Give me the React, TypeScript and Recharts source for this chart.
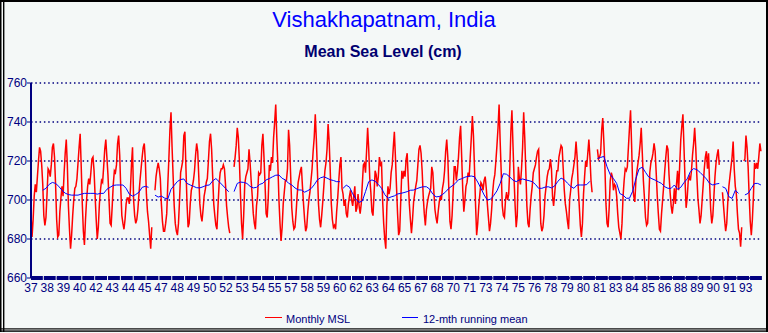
import { CartesianGrid, Line, LineChart, XAxis, YAxis } from "recharts";

// monthly mean sea level (cm), one row per 12 points, null = missing
const monthlyMsl: (number | null)[] = [
  693, 681, 690, 702, 708, 704, 712, 720, 727, 725, 718, 708,
  692, 687, 691, 703, 716, 715, 712, 718, 727, 729, 722, 708,
  690, 681, 682, 694, 701, 707, 702, 714, 724, 731, 718, 697,
  685, 675, 682, 692, 700, 706, 707, 711, 719, 727, 734, 717,
  698, 684, 677, 690, 700, 707, 711, 708, 714, 721, 722, 715,
  702, 690, 680, 686, 698, 705, 710, 709, 717, 726, 731, 722,
  713, 700, 688, 687, 697, 708, 715, 714, 718, 729, 733, 723,
  706, 692, 688, 685, 690, 698, 701, 701, 698, 705, 718, 727,
  700, 692, 688, 690, 695, 703, 710, 716, 722, 727, 729, 720,
  703, 694, 689, 682, 675, 686, null, null, 705, 712, 716, 719,
  716, 711, 698, 689, 684, 684, 688, 693, 708, 721, 736, 745,
  727, 712, 697, 688, 684, 682, 688, 700, 714, 717, 720, 733,
  735, 716, 698, 686, 688, 698, 705, 707, 710, 715, 723, 729,
  725, 712, 698, 692, 689, 695, 702, 705, 709, 711, 720, 730,
  734, 726, 712, 698, 692, 687, 685, 697, 708, 714, 716, 716,
  718, 716, 708, 697, 691, 686, 683, null, null, null, 717, 722,
  728, 737, 732, 720, 703, 688, 680, 692, 708, 712, 714, 716,
  726, 719, 710, 702, 693, 688, 685, 697, 702, 714, 713, 714,
  728, 734, 722, 708, 693, 691, 701, 718, 715, 722, 719, 732,
  740, 749, 732, 718, 700, 688, 679, 686, 698, 704, 710, 710,
  716, 736, 728, 712, 696, 689, 685, 686, 693, 702, 709, 712,
  715, 717, 707, 698, 690, 684, 686, 694, 700, 704, 710, 716,
  725, 732, 744, 731, 715, 698, 690, 686, 692, 699, 707, 715,
  719, 726, 739, 730, 715, 698, 690, 686, 687, 685, 694, 701,
  710, 718, 722, 706, 703, 697, 700, 693, 691, 698, 702, 705,
  700, 697, 702, 707, 694, 696, 703, 697, 693, 698, 708, 718,
  719, 714, 725, 737, 726, 711, 704, 694, 692, 703, 715, 713,
  707, 712, 722, 718, 719, 700, 688, 680, 675, 697, 707, 703,
  706, 714, 718, 727, 735, 722, 707, 693, 682, 684, 700, 715,
  711, 715, 712, 721, 724, 710, 698, 690, 683, 690, 699, 703,
  707, 710, 718, 726, 728, 724, 715, 702, 693, 687, 695, 699,
  702, 704, 706, 717, 714, 704, 695, 691, 688, 694, 699, 702,
  700, 706, 709, 715, 725, 731, 722, 705, 689, 685, 692, 704,
  717, 717, 710, 715, 722, 732, 738, 722, 705, 694, 700, 707,
  709, 714, 712, 722, 732, 743, 733, 716, 697, 682, 688, 697,
  703, 709, 708, 705, 710, 712, 706, 698, 691, 684, 688, 695,
  704, 710, 713, 720, 728, 737, 749, 730, 714, 697, 692, 691,
  700, 704, 700, 703, 716, 735, 746, 728, 711, 697, 686, 692,
  717, 711, 708, 716, 727, 745, 732, 715, 697, 688, 686, 695,
  702, 707, 714, 716, 718, 722, 725, 726, 705, 688, 684, 686,
  692, 702, 707, 712, 715, 716, 721, 716, 702, 697, 703, 710,
  715, 715, 722, 725, 728, 727, 716, 705, 698, 694, 689, 685,
  700, 705, 711, 714, 718, 722, 730, 722, 707, 697, 687, 681,
  688, 703, 712, 720, 717, 724, 731, 722, 710, 704, null, null,
  null, null, 726, 721, 722, 724, 736, 742, 730, 717, 698, 688,
  686, 696, 710, 714, 712, 705, 708, 707, 702, 693, 686, 683,
  680, 688, 702, 710, 716, 715, 717, 727, 737, 746, 728, 707,
  702, 699, 710, 715, 719, 723, 729, 737, 724, 710, 701, 691,
  687, 688, 700, 714, 719, 721, 724, 729, 725, 714, 702, 693,
  685, 684, 693, 700, 707, 715, 722, 728, 726, 713, 704, 697,
  693, 698, 706, 698, 708, 715, 705, 718, 731, 738, 744, 727,
  710, 696, 701, 710, 712, 710, 715, 723, 729, 737, 727, 713,
  701, 695, 688, 692, 700, 708, 716, 722, 725, 716, 724, 708,
  695, 688, 692, 702, 712, 719, 723, 726, 718, null, null, 704,
  697, 690, 684, 688, 699, 707, 712, 717, 722, 730, 716, 707,
  703, 693, 685, 683, 676, 686, null, 720, 721, 733, 727, 717,
  702, 689, 682, 690, 702, 719, 716, 719, 716, 722, 729, 725,
];

// 12-month running mean, read every 3rd month; start = month index of first value
const runningMean = [
  {
    start: 11,
    values: [
      705, 706, 708, 709, 708.5, 707, 705, 703.5, 702.8, 702.5, 702.5, 702.5,
      703, 703.4, 703.4, 703.4, 703.4, 703, 703.4, 703.4, 705.5, 706.5, 707.5,
      707.7, 707.7, 707.7, 706, 703, 702, 702.8, 704, 706.5, 707, 706.5,
    ],
  },
  {
    start: 116,
    values: [
      702.5, 701.5, 702, 701, 700.5, 705.5, 707.5, 709.5, 710.5, 710.8, 708.5,
      707.7, 707, 706.3, 706.2, 706.8, 707.5, 707.7, 709.8, 711, 709.4, 707.7,
      706, 704.2,
    ],
  },
  {
    start: 190,
    values: [
      704.3, 708.5, 709.2, 709, 708.5, 707, 706.2, 706.5, 708, 708.6, 710.3,
      711, 711.9, 712.7, 712.8, 711.1, 710.3, 708.6, 707.7, 706.2, 705.2,
      705.1, 704, 704.8, 705.8, 707.8, 710.3, 711.4, 711.9, 711.2, 710.4, 710,
      709.4, 709.4,
    ],
  },
  {
    start: 292,
    values: [
      706, 707.6, 706.6, 703.2, 700.4, 698.8, 699.5, 704.3, 709.4, 710.3,
      709.6, 708, 706, 702.8, 700.9, 701.6, 702.1, 703.1, 703.4, 703.8,
      704.3, 705, 705.1, 705.8, 706.4, 706.8, 706.8, 705.6, 703, 701.6,
      701.8, 702.8, 704.2, 706, 707.2, 708.5, 710.4, 710.9, 711.7, 712.1,
      712.3, 711.9, 709.2, 706, 702.6, 700, 700.4, 702.3, 704.7, 708.5,
      713.5, 713.2, 711.8, 710.2, 709.4, 710.3, 710.8, 710.3, 709.9, 709.4,
      708, 706, 706, 706.6, 706.8, 706.2, 707.2, 709.6, 711.2, 710.4,
      708.6, 707, 706, 707.7, 707.7, 707.7, 707.9, 709.6,
    ],
  },
  {
    start: 530,
    values: [
      721.3, 721.8, 722.4, 717, 713, 711, 708.5, 703.3, 702.5, 700.9,
      700.9, 704.5, 711, 716, 716.8, 714.2, 711.8, 710.9, 710.2, 709.3,
      708.5, 706.8, 706, 706, 707.7, 705.5, 706.5, 708.9, 710.8, 714.6,
      716.1, 715.6, 714.2, 712.5, 710.8, 708.5, 707.7, 708.2, 708.5,
    ],
  },
  { start: 647, values: [706.8, 706, 701.7, 700.8, 705, 703.4] },
  { start: 668, values: [702.6, 703.4, 706, 708.5, 708.5, 707.7] },
];

const yearLabels = [
  "37", "38", "39", "40", "42", "43", "44", "45", "47", "48", "49", "50",
  "52", "53", "54", "55", "57", "58", "59", "60", "62", "63", "64", "65",
  "67", "68", "70", "71", "73", "74", "75", "76", "78", "79", "80", "81",
  "83", "84", "85", "86", "88", "89", "90", "91", "93",
];

const levelTicks = [660, 680, 700, 720, 740, 760];

const NAVY = "#000080";
const FONT = '"Liberation Sans", Arial, sans-serif';

const mslData = monthlyMsl.map((v, i) => ({ m: i, msl: v }));

const meanData: { m: number; mean: number | null }[] = [];
runningMean.forEach((seg) => {
  seg.values.forEach((v, j) => meanData.push({ m: seg.start + 3 * j, mean: v }));
  // break the line before the next segment
  meanData.push({ m: seg.start + 3 * (seg.values.length - 1) + 1, mean: null });
});

const lastIndex = monthlyMsl.length - 1;
const labelTicks = yearLabels.map((_, i) => (i * monthlyMsl.length) / yearLabels.length);

function labelFor(v: number) {
  const i = labelTicks.findIndex((t) => Math.abs(t - v) < 0.01);
  return i >= 0 ? yearLabels[i] : "";
}

export default function App() {
  return (
    <div
      style={{
        position: "absolute",
        left: 0,
        top: 0,
        width: 768,
        height: 333,
        background: "#f4f8f7",
        fontFamily: FONT,
      }}
    >
      <LineChart
        width={768}
        height={333}
        data={mslData}
        margin={{ top: 83, right: 6, bottom: 35, left: 0 }}
      >
        <CartesianGrid
          vertical={false}
          stroke={NAVY}
          strokeWidth={1.3}
          strokeDasharray="1.5 2.8"
        />
        <XAxis
          type="number"
          dataKey="m"
          domain={[0, lastIndex]}
          ticks={labelTicks}
          interval={0}
          tickFormatter={labelFor}
          height={20}
          tickLine={false}
          tickSize={4}
          tickMargin={1}
          axisLine={{ stroke: NAVY, strokeWidth: 4, strokeDasharray: "11.84 1" }}
          tick={{ fill: NAVY, fontSize: 12, fontFamily: FONT }}
        />
        <YAxis
          type="number"
          domain={[660, 760]}
          ticks={levelTicks}
          interval={0}
          width={31}
          axisLine={{ stroke: NAVY, strokeWidth: 2 }}
          tickLine={{ stroke: NAVY }}
          tickSize={4}
          tickMargin={0}
          tick={{ fill: NAVY, fontSize: 12, fontFamily: FONT }}
        />
        <Line
          type="linear"
          dataKey="msl"
          stroke="#ff0000"
          strokeWidth={1.5}
          dot={false}
          activeDot={false}
          isAnimationActive={false}
        />
        <Line
          type="linear"
          data={meanData}
          dataKey="mean"
          stroke="#0000ff"
          strokeWidth={1}
          dot={false}
          activeDot={false}
          isAnimationActive={false}
        />
      </LineChart>

      <svg
        width={768}
        height={333}
        style={{ position: "absolute", left: 0, top: 0, pointerEvents: "none" }}
      >
        <text x={384} y={27} textAnchor="middle" fontSize={22} fill="#0000ff" fontFamily={FONT}>
          Vishakhapatnam, India
        </text>
        <text
          x={383}
          y={57}
          textAnchor="middle"
          fontSize={16}
          fontWeight="bold"
          fill="#000070"
          fontFamily={FONT}
        >
          Mean Sea Level (cm)
        </text>

        <line x1={265} x2={282} y1={317.5} y2={317.5} stroke="#ff0000" />
        <text x={286} y={323} fontSize={11} fill={NAVY} fontFamily={FONT}>
          Monthly MSL
        </text>
        <line x1={402} x2={418} y1={317.5} y2={317.5} stroke="#0000ff" />
        <text x={423} y={323} fontSize={11} fill={NAVY} fontFamily={FONT}>
          12-mth running mean
        </text>

        {/* frame */}
        <rect x={0} y={0} width={768} height={2} fill="#000" />
        <rect x={0} y={0} width={1.5} height={332} fill="#000" />
        <rect x={3} y={0} width={1.4} height={332} fill="#000" />
        <rect x={0} y={328.3} width={768} height={1.2} fill="#000" />
        <rect x={0} y={330.4} width={768} height={1.4} fill="#000" />
        <rect x={766} y={0} width={2} height={332} fill="#000" />
      </svg>
    </div>
  );
}
